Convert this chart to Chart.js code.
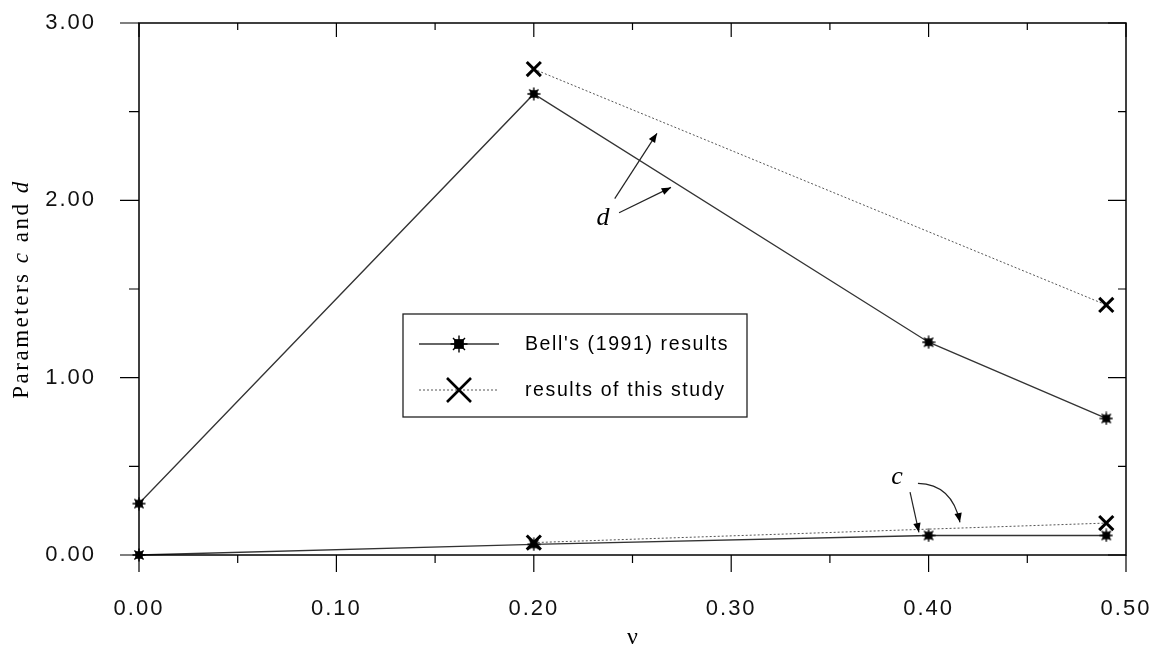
<!DOCTYPE html>
<html>
<head>
<meta charset="utf-8">
<script src="https://cdn.jsdelivr.net/npm/chart.js@4.4.0/dist/chart.umd.min.js"></script>
<style>
  html, body { margin: 0; padding: 0; background: #fff; }
</style>
</head>
<body>
<canvas id="chart" width="1158" height="650"></canvas>
<script>
// ============= Data =============
const bellNu = [0.0, 0.2, 0.4, 0.49];
const bellD = [0.29, 2.6, 1.2, 0.77];
const bellC = [0.0, 0.06, 0.11, 0.11];

const studyNu = [0.2, 0.49];
const studyD = [2.74, 1.41];
const studyC = [0.07, 0.18];

const legendLabels = ["Bell's (1991) results", "results of this study"];
const xTitle = "\u03bd";
const yTitleParts = [["Parameters ", false], ["c", true], [" and ", false], ["d", true]];

// annotations (data units): labels and arrows
const noteLabels = [
  { text: "d", x: 0.235, y: 1.9 },
  { text: "c", x: 0.384, y: 0.44 },
];
const noteArrows = [
  { from: [0.241, 2.01], to: [0.2624, 2.378] },
  { from: [0.2432, 1.93], to: [0.2695, 2.073] },
  { from: [0.3906, 0.354], to: [0.3951, 0.128] },
  { from: [0.3946, 0.404], ctrl: [0.4119, 0.399], to: [0.4159, 0.184] },
];

const toPts = (xs, ys) => xs.map((x, i) => ({ x, y: ys[i] }));

// ============= Markers =============
function makeStar(size) {
  const cv = document.createElement("canvas");
  cv.width = cv.height = size;
  const g = cv.getContext("2d");
  const m = size / 2, r = size / 2 - 0.5, s = size * 0.27;
  g.strokeStyle = "#000";
  g.lineWidth = 1.4;
  g.beginPath();
  for (let a = 0; a < 4; a++) {
    const t = (a * Math.PI) / 4;
    g.moveTo(m - r * Math.cos(t), m - r * Math.sin(t));
    g.lineTo(m + r * Math.cos(t), m + r * Math.sin(t));
  }
  g.stroke();
  g.fillStyle = "#000";
  g.fillRect(m - s, m - s, 2 * s, 2 * s);
  return cv;
}
const starSmall = makeStar(14);
const starBig = makeStar(18);

const bellStyle = {
  borderColor: "#333",
  borderWidth: 1.3,
  pointStyle: starSmall,
  pointRadius: 7,
};
const studyStyle = {
  borderColor: "#555",
  borderWidth: 1,
  borderDash: [2, 2],
  pointStyle: "crossRot",
  pointRadius: 10,
  pointBorderWidth: 3,
  pointBorderColor: "#000",
};

// ============= Plugins =============
const spacing = {
  id: "spacing",
  beforeDraw(chart) {
    chart.ctx.letterSpacing = "2px";
  },
};

const frame = {
  id: "frame",
  afterDatasetsDraw(chart) {
    const { ctx, chartArea: a, scales } = chart;
    const xs = scales.x, ys = scales.y;
    ctx.save();
    ctx.strokeStyle = "#000";
    ctx.lineWidth = 1.5;
    ctx.strokeRect(a.left, a.top, a.right - a.left, a.bottom - a.top);
    ctx.lineWidth = 1.2;
    ctx.beginPath();
    for (let k = 0; k <= 6; k++) {
      const v = k * 0.5;
      const p = ys.getPixelForValue(v);
      const major = k % 2 === 0;
      ctx.moveTo(a.left - (major ? 19 : 10), p);
      ctx.lineTo(a.left, p);
      ctx.moveTo(a.right, p);
      ctx.lineTo(a.right - (major ? 18 : 8), p);
    }
    for (let k = 0; k <= 10; k++) {
      const v = k * 0.05;
      const p = xs.getPixelForValue(v);
      const major = k % 2 === 0;
      ctx.moveTo(p, a.bottom);
      ctx.lineTo(p, a.bottom + (major ? 17 : 8));
      ctx.moveTo(p, a.top);
      ctx.lineTo(p, a.top + (major ? 14 : 7));
    }
    ctx.stroke();
    ctx.restore();
  },
  afterDraw(chart) {
    const { ctx, chartArea: a, scales } = chart;
    const xs = scales.x, ys = scales.y;
    ctx.save();
    ctx.fillStyle = "#000";
    ctx.strokeStyle = "#222";

    // axis titles
    ctx.letterSpacing = "2.5px";
    ctx.textBaseline = "middle";
    ctx.textAlign = "left";
    const fnt = (it) => (it ? "italic " : "") + "23px 'Liberation Serif'";
    let total = 0;
    yTitleParts.forEach(([t, it]) => { ctx.font = fnt(it); total += ctx.measureText(t).width; });
    ctx.save();
    ctx.translate(22, (a.top + a.bottom) / 2);
    ctx.rotate(-Math.PI / 2);
    let cx = -total / 2;
    yTitleParts.forEach(([t, it]) => {
      ctx.font = fnt(it);
      ctx.fillText(t, cx, 0);
      cx += ctx.measureText(t).width;
    });
    ctx.restore();
    ctx.letterSpacing = "0px";
    ctx.font = "24px 'Liberation Serif'";
    ctx.textAlign = "center";
    ctx.fillText(xTitle, (a.left + a.right) / 2, 638);

    // annotations
    ctx.font = "italic 26px 'Liberation Serif'";
    noteLabels.forEach((n) => ctx.fillText(n.text, xs.getPixelForValue(n.x), ys.getPixelForValue(n.y)));
    ctx.lineWidth = 1.2;
    const px = (p) => [xs.getPixelForValue(p[0]), ys.getPixelForValue(p[1])];
    noteArrows.forEach((ar) => {
      const f = px(ar.from), t = px(ar.to);
      ctx.beginPath();
      ctx.moveTo(f[0], f[1]);
      let dir;
      if (ar.ctrl) {
        const c = px(ar.ctrl);
        ctx.quadraticCurveTo(c[0], c[1], t[0], t[1]);
        dir = Math.atan2(t[1] - c[1], t[0] - c[0]);
      } else {
        ctx.lineTo(t[0], t[1]);
        dir = Math.atan2(t[1] - f[1], t[0] - f[0]);
      }
      ctx.stroke();
      const L = 10, W = 0.38;
      ctx.beginPath();
      ctx.moveTo(t[0], t[1]);
      ctx.lineTo(t[0] - L * Math.cos(dir - W), t[1] - L * Math.sin(dir - W));
      ctx.lineTo(t[0] - L * Math.cos(dir + W), t[1] - L * Math.sin(dir + W));
      ctx.closePath();
      ctx.fill();
    });

    // legend
    const bx = 403, by = 314, bw = 344, bh = 103;
    ctx.lineWidth = 1.3;
    ctx.strokeStyle = "#222";
    ctx.strokeRect(bx, by, bw, bh);
    const rows = [344, 390];
    ctx.letterSpacing = "1.6px";
    ctx.font = "19.5px 'Liberation Sans'";
    ctx.textAlign = "left";
    rows.forEach((ry, i) => {
      const st = i === 0 ? bellStyle : studyStyle;
      ctx.save();
      ctx.strokeStyle = st.borderColor;
      ctx.lineWidth = st.borderWidth;
      ctx.setLineDash(st.borderDash || []);
      ctx.beginPath();
      ctx.moveTo(419, ry);
      ctx.lineTo(499, ry);
      ctx.stroke();
      ctx.restore();
      if (i === 0) {
        ctx.drawImage(starBig, 459 - 9, ry - 9);
      } else {
        ctx.save();
        ctx.lineWidth = 2.6;
        ctx.strokeStyle = "#000";
        ctx.beginPath();
        ctx.moveTo(447, ry - 12); ctx.lineTo(471, ry + 12);
        ctx.moveTo(471, ry - 12); ctx.lineTo(447, ry + 12);
        ctx.stroke();
        ctx.restore();
      }
      ctx.fillText(legendLabels[i], 525, ry + 1);
    });
    ctx.restore();
  },
};

// ============= Chart =============
new Chart(document.getElementById("chart"), {
  type: "line",
  data: {
    datasets: [
      { label: "Bell d", data: toPts(bellNu, bellD), ...bellStyle },
      { label: "Bell c", data: toPts(bellNu, bellC), ...bellStyle },
      { label: "Study d", data: toPts(studyNu, studyD), ...studyStyle },
      { label: "Study c", data: toPts(studyNu, studyC), ...studyStyle },
    ],
  },
  options: {
    responsive: false,
    animation: false,
    clip: false,
    layout: { padding: { left: 0, top: 23, right: 32, bottom: 0 } },
    plugins: { legend: { display: false }, tooltip: { enabled: false } },
    elements: { line: { tension: 0 } },
    scales: {
      x: {
        type: "linear",
        min: 0,
        max: 0.5,
        grid: { display: false },
        border: { display: false },
        afterFit: (s) => { s.height = 95; s.paddingLeft = 0; s.paddingRight = 0; },
        ticks: {
          stepSize: 0.1,
          padding: 33,
          color: "#111",
          font: { family: "Liberation Sans", size: 22 },
          maxRotation: 0,
          callback: (v) => Number(v).toFixed(2),
        },
      },
      y: {
        min: 0,
        max: 3,
        grid: { display: false },
        border: { display: false },
        afterFit: (s) => { s.width = 139; s.paddingTop = 0; s.paddingBottom = 0; },
        ticks: {
          stepSize: 1,
          padding: 35,
          color: "#111",
          font: { family: "Liberation Sans", size: 22 },
          callback: (v) => Number(v).toFixed(2),
        },
      },
    },
  },
  plugins: [spacing, frame],
});
</script>
</body>
</html>
